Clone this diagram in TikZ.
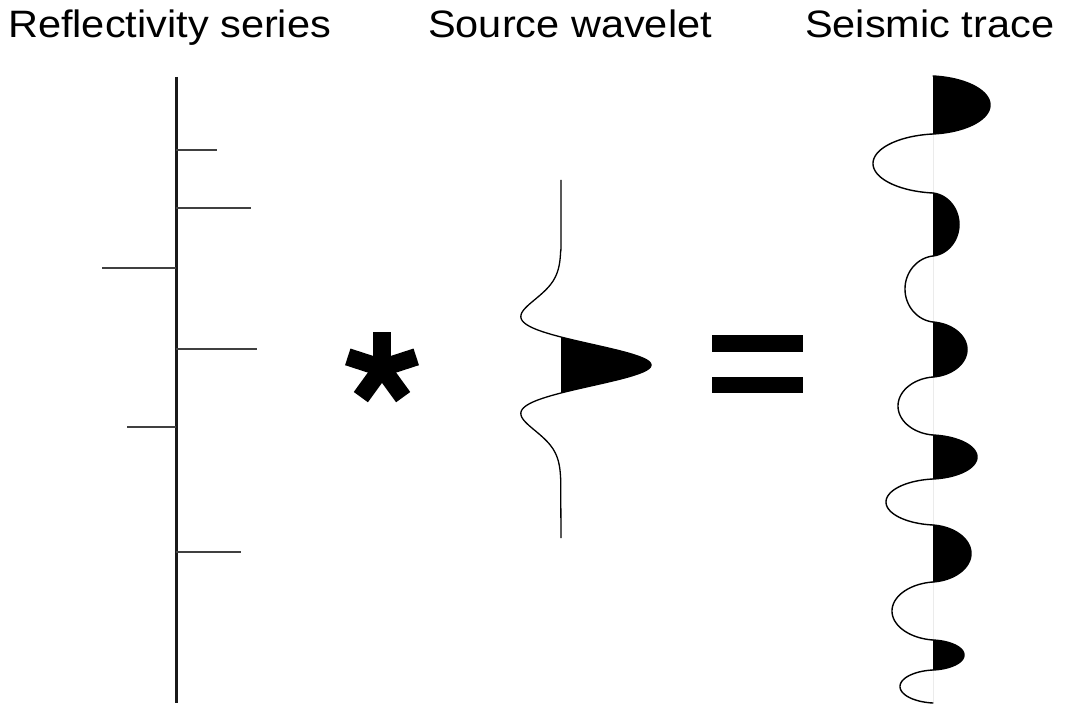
\documentclass[tikz,border=0pt]{standalone}
\usepackage{fontspec}
\setmainfont{Liberation Sans}
\usepackage{graphicx}
\begin{document}
\begin{tikzpicture}[x=1pt,y=1pt,
  title/.style={anchor=base west, inner sep=0pt, font=\fontsize{41.5}{50}\selectfont},
  axisline/.style={line width=3pt, black!90},
  spike/.style={line width=1.6pt, black!75},
  wave/.style={line width=1.3pt, black},
  trace/.style={line width=1.4pt, black},
  lobefill/.style={fill=black},
  arm/.style={line width=17.5pt, line cap=butt},
  bar/.style={fill=black}]
\useasboundingbox (0,0) rectangle (1066,-706);
\fill[white] (0,0) rectangle (1066,-706);

% titles
\node[title] (t1) at (8,-38) {\scalebox{1}[0.92]{Reflectivity series}};
\node[title] (t2) at (428,-38) {\scalebox{1}[0.92]{Source wavelet}};
\node[title] (t3) at (805,-38) {\scalebox{1}[0.92]{Seismic trace}};

% reflectivity series
\coordinate (rtop) at (176,-77);
\coordinate (rbot) at (176,-703);
\draw[axisline] (rtop) -- (rbot);
\foreach \yy/\xx in {150/217, 208/251, 268/102, 349/257, 427/127, 552/241}{
  \draw[spike] (176,-\yy) -- (\xx,-\yy);
}

% asterisk
\coordinate (ast) at (382,-368);
\foreach \a in {90,162,234,306,18}{
  \draw[arm] (ast) ++(\a+180:4) -- ++(\a:40);
}

% source wavelet (Ricker)
\coordinate (wtop) at (561,-180);
\coordinate (wbot) at (561,-538);
\fill[lobefill] plot[domain=337:393, samples=80, variable=\y]
  ({561 + 90*(1-((\y-365)/28)*((\y-365)/28))*exp(-0.5*((\y-365)/28)*((\y-365)/28))}, {-\y}) -- cycle;
\draw[wave] (wtop) -- (561,-250)
  -- plot[domain=250:480, samples=240, variable=\y]
  ({561 + 90*(1-((\y-365)/28)*((\y-365)/28))*exp(-0.5*((\y-365)/28)*((\y-365)/28))}, {-\y})
  -- (wbot);

% equals sign
\fill[bar] (712,-335) rectangle (803,-352);
\fill[bar] (712,-377) rectangle (803,-393);

% seismic trace
\draw[line width=0.8pt, black!8] (933,-76) -- (933,-703);
\foreach \ya/\yb/\A in {76/134/57, 193/256/26, 322/377/34, 435/479/44, 525/582/38, 640/670/31}{
  \fill[lobefill] plot[domain=0:180, samples=72, variable=\t]
   ({933 + \A*sin(\t)}, {-(\ya + (\yb-\ya)*(0.85*(1-cos(\t))/2 + 0.15*\t/180))}) -- cycle;
}
\foreach \ya/\yb/\A in {76/134/57, 134/193/-60, 193/256/26, 256/322/-28, 322/377/34, 377/435/-35, 435/479/44, 479/525/-47, 525/582/38, 582/640/-41, 640/670/31, 670/703/-33}{
  \draw[trace, line cap=round] plot[domain=0:180, samples=72, variable=\t]
   ({933 + \A*sin(\t)}, {-(\ya + (\yb-\ya)*(0.85*(1-cos(\t))/2 + 0.15*\t/180))});
}
\end{tikzpicture}
\end{document}
